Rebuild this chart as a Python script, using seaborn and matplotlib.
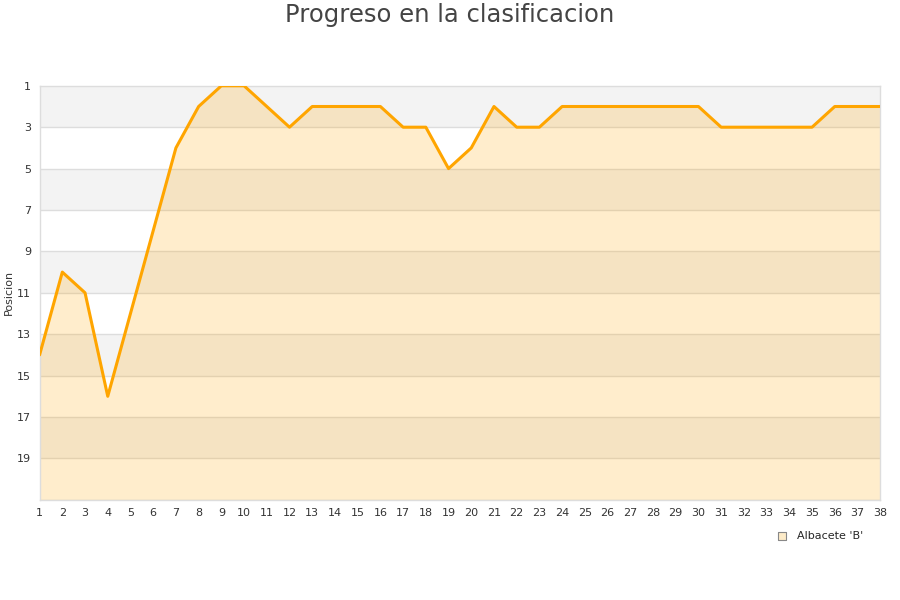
import numpy as np
import pandas as pd
import matplotlib
matplotlib.use("Agg")
import matplotlib.pyplot as plt
import seaborn as sns

jornadas = list(range(1, 39))
posicion = [14, 10, 11, 16, 12, 8, 4, 2, 1, 1, 2, 3, 2, 2, 2, 2, 3, 3, 5, 4,
            2, 3, 3, 2, 2, 2, 2, 2, 2, 2, 3, 3, 3, 3, 3, 2, 2, 2]
equipo = "Albacete 'B'"
y_ticks = [1, 3, 5, 7, 9, 11, 13, 15, 17, 19]

df = pd.DataFrame({"Jornada": jornadas, "Posicion": posicion})

sns.set_theme(style="white")
plt.rcParams["font.family"] = ["DejaVu Sans"]

fig = plt.figure(figsize=(9, 6), dpi=100)
ax = fig.add_axes([0.044, 0.167, 0.934, 0.69])

# bandas alternas
for lo in range(1, 21, 4):
    ax.axhspan(lo, lo + 2, color="#f3f3f3", zorder=0, lw=0)
for t in y_ticks[1:] + [21]:
    ax.axhline(t, color="#dddddd", lw=1, zorder=1)

ax.fill_between(df["Jornada"], df["Posicion"], 21, color="#ffa500", alpha=0.2,
                lw=0, zorder=2)
sns.lineplot(data=df, x="Jornada", y="Posicion", color="#ffa500", lw=2.2,
             ax=ax, zorder=3, legend=False)

ax.set_xlim(1, 38)
ax.set_ylim(21, 1)
ax.set_xticks(jornadas)
ax.set_yticks(y_ticks)
ax.tick_params(axis="both", labelsize=8, colors="#333333", length=0, pad=6)
ax.set_xlabel("")
ax.set_ylabel("Posicion", fontsize=8, color="#333333", labelpad=2)
for s in ax.spines.values():
    s.set_color("#dddddd")
    s.set_linewidth(1)

fig.suptitle("Progreso en la clasificacion", fontsize=17.5, color="#444444", y=0.995)

ax.scatter([], [], marker="s", s=40, facecolor="#fdebc8", edgecolor="#888888",
           lw=0.8, label=equipo)
leg = ax.legend(loc="upper left", bbox_to_anchor=(0.865, -0.065), frameon=False,
                fontsize=8, handletextpad=0.3, borderaxespad=0)

fig.savefig("out.png", dpi=100)
